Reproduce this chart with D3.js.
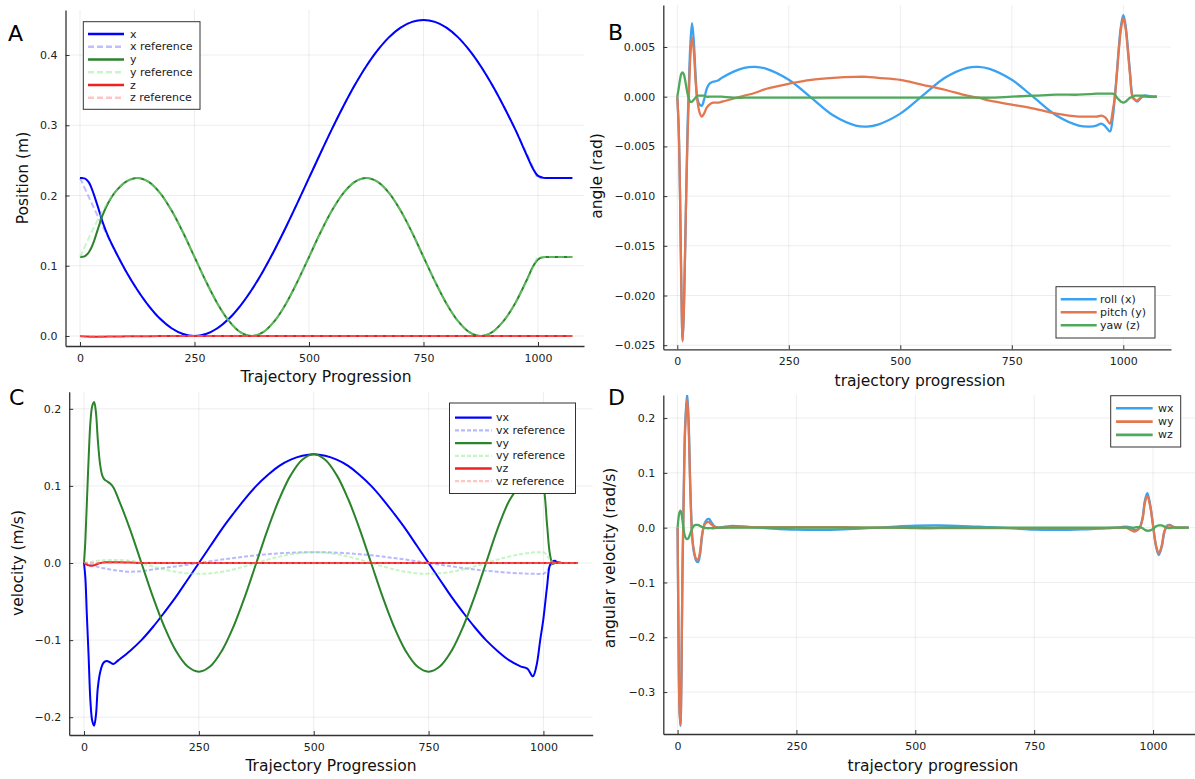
<!DOCTYPE html>
<html><head><meta charset="utf-8">
<script src="https://cdn.jsdelivr.net/npm/d3@7"></script>
<style>
body{margin:0;background:#fff;}
svg{display:block;font-family:"DejaVu Sans",sans-serif;}
</style></head><body>
<svg id="chart" width="1195" height="779"></svg>
<script>
// ---------------- DATA ----------------
const xTicks = [0, 250, 500, 750, 1000];
const yTicksA = [0, 0.1, 0.2, 0.3, 0.4];
const yTicksB = [-0.025, -0.02, -0.015, -0.01, -0.005, 0, 0.005];
const yTicksC = [-0.2, -0.1, 0, 0.1, 0.2];
const yTicksD = [-0.3, -0.2, -0.1, 0, 0.1, 0.2];

// Panel A: position
const tA = [0,5,10,15,20,25,30,40,50,62,75,100,125,150,175,200,225,250,275,300,325,350,375,400,425,450,475,500,525,550,575,600,625,650,675,700,725,750,775,800,825,850,875,900,925,950,975,990,1000,1010,1020,1035,1050,1075];
const posX = [0.225,0.2248,0.2243,0.222,0.218,0.211,0.202,0.182,0.161,0.141,0.1235,
  0.0927,0.0659,0.043,0.0245,0.011,0.0028,0,0.0028,0.011,0.0245,
  0.043,0.0659,0.0927,0.1229,0.1555,0.1898,0.225,0.2602,0.2945,0.3271,
  0.3573,0.3841,0.407,0.4255,0.439,0.4472,0.45,0.4472,0.439,0.4255,
  0.407,0.3841,0.3573,0.3271,0.2945,0.258,
  0.237,0.228,0.2255,0.225,0.225,0.225,0.225];
const posXRef = [0.225,0.218,0.2109,0.2038,0.1968,0.1898,0.1828,0.169,0.1555,0.1396,0.1229,
  0.0927,0.0659,0.043,0.0245,0.011,0.0028,0,0.0028,0.011,0.0245,
  0.043,0.0659,0.0927,0.1229,0.1555,0.1898,0.225,0.2602,0.2945,0.3271,
  0.3573,0.3841,0.407,0.4255,0.439,0.4472,0.45,0.4472,0.439,0.4255,
  0.407,0.3841,0.3573,0.3271,0.2945,0.2602,
  0.2391,0.225,0.225,0.225,0.225,0.225,0.225];
const posY = [0.1125,0.1127,0.1135,0.116,0.12,0.126,0.134,0.154,0.173,0.19,0.2035,
  0.2195,0.225,0.2195,0.2035,0.1786,0.1473,0.1125,0.0777,0.0464,0.0215,
  0.0055,0,0.0055,0.0215,0.0464,0.0777,0.1125,0.1473,0.1786,0.2035,
  0.2195,0.225,0.2195,0.2035,0.1786,0.1473,0.1125,0.0777,0.0464,0.0215,
  0.0055,0,0.0055,0.0215,0.0464,0.079,
  0.1,0.109,0.112,0.1125,0.1125,0.1125,0.1125];
const posYRef = [0.1125,0.1196,0.1266,0.1336,0.1405,0.1473,0.1539,0.1667,0.1786,0.1916,0.2035,
  0.2195,0.225,0.2195,0.2035,0.1786,0.1473,0.1125,0.0777,0.0464,0.0215,
  0.0055,0,0.0055,0.0215,0.0464,0.0777,0.1125,0.1473,0.1786,0.2035,
  0.2195,0.225,0.2195,0.2035,0.1786,0.1473,0.1125,0.0777,0.0464,0.0215,
  0.0055,0,0.0055,0.0215,0.0464,0.0777,
  0.0984,0.1125,0.1125,0.1125,0.1125,0.1125,0.1125];
const posZ = [0,-0.0003,-0.0006,-0.0008,-0.0009,-0.001,-0.001,-0.001,-0.0009,-0.0008,-0.0007,
  -0.0005,-0.0003,-0.0002,-0.0001,0,0,0,0,0,0,
  0,0,0,0,0,0,0,0,0,0,
  0,0,0,0,0,0,0,0,0,0,
  0,0,0,0,0,0,
  0,0,0,0,0,0,0];
const posZRef = [0,0,0,0,0,0,0,0,0,0,0,
  0,0,0,0,0,0,0,0,0,0,
  0,0,0,0,0,0,0,0,0,0,
  0,0,0,0,0,0,0,0,0,0,
  0,0,0,0,0,0,
  0,0,0,0,0,0,0];

// Panel B: angles
const tB = [0,3,6,9,12,15,19,23,26,29,33,37,41,45,50,55,60,66,72,80,90,100,125,150,175,200,250,300,350,400,425,450,500,550,600,650,675,700,750,800,850,900,925,940,951,960,970,976,981,986,990,995,1000,1005,1010,1015,1021,1026,1031,1038,1046,1054,1064,1075];
const roll = [0,-0.003,-0.0095,-0.019,-0.0246,-0.021,-0.012,-0.003,0.0012,0.005,
  0.0074,0.0056,0.0022,-0.0002,-0.0008,-0.0009,-0.0003,0.0008,0.0013,0.0015,
  0.0016,0.0019,0.0025,0.0029,0.003,0.0028,0.0017,-0.0001,-0.0019,-0.0029,
  -0.003,-0.0028,-0.0017,0.0001,0.0019,0.0029,0.003,0.0028,0.0017,-0.0001,
  -0.0019,-0.0029,-0.003,-0.0029,-0.0027,-0.003,-0.0035,-0.0022,0,0.0027,
  0.005,0.0072,0.0082,0.0072,0.005,0.0025,0,-0.0003,-0.0005,-0.0002,
  0.0001,0.0001,0,0];
const pitch = [0,-0.003,-0.0095,-0.019,-0.0245,-0.021,-0.012,-0.004,0,0.0038,
  0.006,0.0046,0.0016,-0.0004,-0.0016,-0.002,-0.0017,-0.0011,-0.0008,-0.0006,
  -0.0006,-0.0005,-0.0002,0.0001,0.0004,0.0008,0.0013,0.0017,0.0019,0.002,
  0.002,0.0019,0.0017,0.0012,0.0007,0.0001,-0.0001,-0.0004,-0.0008,-0.0012,
  -0.0017,-0.002,-0.002,-0.002,-0.0019,-0.0021,-0.0027,-0.0015,0,0.0025,
  0.0047,0.0069,0.0079,0.0069,0.0047,0.0022,-0.0001,-0.0003,-0.0004,-0.0001,
  0,0,0,0];
const yaw = [0,0.0008,0.0017,0.0023,0.00245,0.0022,0.0013,0.0003,-0.0002,-0.0005,
  -0.0005,-0.0003,-0.0001,0.0001,0.0001,0.0001,0.0001,0,0,0,
  0,0,-0.0001,-0.0001,-0.0001,-0.0001,-0.0001,-0.0001,-0.0001,-0.0001,
  -0.0001,-0.0001,-0.0001,-0.0001,-0.0001,-0.0001,-0.0001,-0.0001,0,0.0001,
  0.0002,0.0002,0.00025,0.0003,0.0003,0.0003,0.0003,0.0003,0.0002,-0.0001,
  -0.0003,-0.0005,-0.0006,-0.0005,-0.0003,-0.0001,0,0.0001,0.0001,0.0001,
  0.0001,0,0,0];

// Panel C: velocity
const tC = [0,3,6,10,14,18,22,26,30,35,40,45,50,57,64,75,100,125,150,175,200,225,250,275,300,325,350,375,400,425,450,475,500,525,550,575,600,625,650,675,700,725,750,775,800,825,850,875,900,925,950,965,977,985,993,1000,1008,1014,1020,1025,1030,1040,1055,1075];
const vx = [0,-0.02,-0.065,-0.121,-0.18,-0.205,-0.211,-0.197,-0.162,-0.142,
  -0.132,-0.128,-0.127,-0.129,-0.131,-0.126,-0.114,-0.1,-0.083,-0.064,
  -0.044,-0.022,0,0.022,0.044,0.064,0.083,0.1,0.114,0.126,
  0.134,0.139,0.141,0.139,0.134,0.126,0.114,0.1,0.083,0.064,
  0.044,0.022,0,-0.022,-0.044,-0.064,-0.083,-0.1,-0.114,-0.126,
  -0.134,-0.137,-0.147,-0.133,-0.1,-0.072,-0.03,-0.003,0.002,0.003,
  0.001,0,0,0];
const vxRef = [0,-0.0005,-0.001,-0.0018,-0.0025,-0.003,-0.0037,-0.0043,-0.005,-0.0057,
  -0.0064,-0.007,-0.0076,-0.0084,-0.009,-0.01,-0.0113,-0.0105,-0.0085,-0.0064,
  -0.0044,-0.0022,0,0.0022,0.0044,0.0064,0.0083,0.01,0.0114,0.0126,
  0.0134,0.0139,0.0141,0.0139,0.0134,0.0126,0.0114,0.01,0.0083,0.0064,
  0.0044,0.0022,0,-0.0022,-0.0044,-0.0064,-0.0083,-0.01,-0.0114,-0.0126,
  -0.0134,-0.0138,-0.014,-0.0141,-0.0141,-0.0141,-0.01,-0.004,-0.001,0,
  0,0,0,0];
const vy = [0,0.03,0.075,0.135,0.183,0.204,0.209,0.195,0.16,0.128,
  0.113,0.108,0.106,0.103,0.098,0.083,0.044,0,-0.044,-0.083,
  -0.114,-0.134,-0.141,-0.134,-0.114,-0.083,-0.044,0,0.044,0.083,
  0.114,0.134,0.141,0.134,0.114,0.083,0.044,0,-0.044,-0.083,
  -0.114,-0.134,-0.141,-0.134,-0.114,-0.083,-0.044,0,0.044,0.08,
  0.102,0.112,0.118,0.117,0.11,0.1,0.049,0.012,-0.001,0,
  0.001,0,0,0];
const vyRef = [0,0.0003,0.0006,0.001,0.0014,0.0018,0.0022,0.0025,0.0028,0.0032,
  0.0035,0.0037,0.0039,0.004,0.004,0.0039,0.003,0,-0.0044,-0.0083,
  -0.0114,-0.0134,-0.0141,-0.0134,-0.0114,-0.0083,-0.0044,0,0.0044,0.0083,
  0.0114,0.0134,0.0141,0.0134,0.0114,0.0083,0.0044,0,-0.0044,-0.0083,
  -0.0114,-0.0134,-0.0141,-0.0134,-0.0114,-0.0083,-0.0044,0,0.0044,0.0083,
  0.0114,0.0128,0.0136,0.0139,0.0141,0.0141,0.01,0.004,0.001,0,
  0,0,0,0];
const vz = [0,-0.001,-0.002,-0.003,-0.0035,-0.0035,-0.003,-0.002,-0.001,0,
  0.0005,0.001,0.001,0.001,0.001,0.001,0.0005,0,0,0,
  0,0,0,0,0,0,0,0,0,0,
  0,0,0,0,0,0,0,0,0,0,
  0,0,0,0,0,0,0,0,0,0,
  0,0,0,0,0,0,0,0,0,0,
  0,0,0,0];
const vzRef = [0,0,0,0,0,0,0,0,0,0,
  0,0,0,0,0,0,0,0,0,0,
  0,0,0,0,0,0,0,0,0,0,
  0,0,0,0,0,0,0,0,0,0,
  0,0,0,0,0,0,0,0,0,0,
  0,0,0,0,0,0,0,0,0,0,
  0,0,0,0];

// Panel D: angular velocity
const tD = [0,2,4,6,8,10,13,16,20,23,27,31,35,39,43,47,52,57,62,66,71,77,85,95,110,150,200,250,300,350,400,450,500,550,600,650,700,750,800,850,900,930,943,953,960,966,972,978,983,988,994,1000,1006,1012,1018,1024,1030,1035,1042,1050,1062,1075];
const wx = [0,-0.2,-0.33,-0.362,-0.28,-0.1,0.07,0.19,0.245,0.2,
  0.07,-0.02,-0.048,-0.06,-0.063,-0.05,-0.012,0.008,0.015,0.016,
  0.01,0.003,0,0.001,0.003,0.0015,-0.0015,-0.0035,-0.004,-0.003,
  -0.001,0.0015,0.0035,0.004,0.003,0.001,-0.001,-0.0035,-0.004,-0.003,
  -0.001,0.0005,0.002,0,-0.004,-0.004,0,0.018,0.05,0.063,
  0.042,0.005,-0.033,-0.05,-0.036,-0.008,0.004,0.005,0.002,0,
  0,0];
const wy = [0,-0.2,-0.33,-0.36,-0.28,-0.1,0.06,0.18,0.235,0.19,
  0.06,-0.02,-0.045,-0.057,-0.058,-0.045,-0.01,0.006,0.01,0.01,
  0.006,0.002,0,0,0.001,0.001,0.001,0.001,0.001,0.001,
  0,0,-0.001,-0.001,-0.001,-0.001,-0.001,-0.001,-0.001,-0.001,
  -0.001,0,0,-0.004,-0.007,-0.005,0,0.016,0.046,0.058,
  0.039,0.004,-0.031,-0.047,-0.034,-0.006,0.003,0.004,0.001,0,
  0,0];
const wz = [0,0.018,0.028,0.031,0.027,0.015,-0.005,-0.017,-0.021,-0.019,
  -0.01,-0.001,0.004,0.005,0.005,0.003,0.001,0,-0.001,-0.001,
  -0.001,-0.001,0,0,0,0,0,0,0,0,
  0,0,0,0,0,0,0,0,0,0,
  0,0,0,0,0,0.001,0.001,-0.001,-0.004,-0.0055,
  -0.005,-0.002,0.002,0.004,0.004,0.002,0,-0.001,0,0,
  0,0];

// ---------------- DRAWING ----------------
const svg = d3.select("#chart");
const defs = svg.append("defs");
const AXIS = "#333";

const panels = [
  {id:"A", letter:[8,40.5], left:65.5, right:584, top:10, bottom:346,
   xDomain:[-31.66,1100.4], yDomain:[-0.01423,0.4641], yTicks:yTicksA, fmt:d3.format(".1f"),
   xTitle:"Trajectory Progression", xTitlePos:[326,377], yTitle:"Position (m)", yTitlePos:[23,178],
   t:tA,
   series:[
     {v:posX, color:"#0000ff", w:2, label:"x"},
     {v:posXRef, color:"#0000ff", op:0.25, w:2, dash:"6,3", label:"x reference"},
     {v:posY, color:"#2b832b", w:2, label:"y"},
     {v:posYRef, color:"#90ee90", op:0.5, w:2, dash:"6,3", label:"y reference"},
     {v:posZ, color:"#f02020", w:2, label:"z"},
     {v:posZRef, color:"#ff8080", op:0.45, w:2, dash:"6,3", label:"z reference"}],
   legend:{x:83.3, y:21.7, w:116.7, h:87.6, row0:34, dy:12.75, lx1:88, lx2:124, tx:130}},
  {id:"B", letter:[608,40], left:663.3, right:1171, top:5, bottom:349.3,
   xDomain:[-31.39,1106.9], yDomain:[-0.02541,0.009225], yTicks:yTicksB, fmt:d3.format(".3f"),
   xTitle:"trajectory progression", xTitlePos:[920,381], yTitle:"angle (rad)", yTitlePos:[597,176],
   t:tB,
   series:[
     {v:roll, color:"#3aa2f2", w:2.3, label:"roll (x)"},
     {v:pitch, color:"#e3774f", w:2.3, label:"pitch (y)"},
     {v:yaw, color:"#4ea95a", w:2.3, label:"yaw (z)"}],
   legend:{x:1056, y:286.7, w:99, h:51.3, row0:299.3, dy:13, lx1:1060.7, lx2:1096.7, tx:1100}},
  {id:"C", letter:[9,405], left:69.2, right:592.7, top:391.7, bottom:735,
   xDomain:[-32.25,1107.25], yDomain:[-0.2231,0.2222], yTicks:yTicksC, fmt:d3.format(".1f"),
   xTitle:"Trajectory Progression", xTitlePos:[331,766], yTitle:"velocity (m/s)", yTitlePos:[17.6,563],
   t:tC,
   series:[
     {v:vx, color:"#0000ff", w:2, label:"vx"},
     {v:vxRef, color:"#0000ff", op:0.28, w:2, dash:"4,2", label:"vx reference"},
     {v:vy, color:"#2b832b", w:2, label:"vy"},
     {v:vyRef, color:"#90ee90", op:0.55, w:2, dash:"4,2", label:"vy reference"},
     {v:vz, color:"#f02020", w:2, label:"vz"},
     {v:vzRef, color:"#ff8080", op:0.45, w:2, dash:"4,2", label:"vz reference"}],
   legend:{x:449.5, y:403, w:126, h:90.5, row0:417.7, dy:12.7, lx1:455, lx2:491.7, tx:496}},
  {id:"D", letter:[608,405], left:663.3, right:1204, top:395, bottom:734,
   xDomain:[-30.06,1107.2], yDomain:[-0.3765,0.2421], yTicks:yTicksD, fmt:d3.format(".1f"),
   xTitle:"trajectory progression", xTitlePos:[933,766], yTitle:"angular velocity (rad/s)", yTitlePos:[610,558],
   t:tD,
   series:[
     {v:wx, color:"#3aa2f2", w:2.3, label:"wx"},
     {v:wy, color:"#e3774f", w:2.3, label:"wy"},
     {v:wz, color:"#4ea95a", w:2.3, label:"wz"}],
   legend:{x:1110.7, y:395.7, w:70, h:51.3, row0:408.3, dy:13.3, lx1:1116, lx2:1152.7, tx:1158}}
];

panels.forEach(p => {
  const x = d3.scaleLinear().domain(p.xDomain).range([p.left, p.right]);
  const y = d3.scaleLinear().domain(p.yDomain).range([p.bottom, p.top]);
  const g = svg.append("g");

  defs.append("clipPath").attr("id", "clip" + p.id)
    .append("rect").attr("x", p.left).attr("y", p.top)
    .attr("width", p.right - p.left).attr("height", p.bottom - p.top);

  // grid
  const grid = g.append("g").attr("stroke", "#000").attr("stroke-opacity", 0.09).attr("stroke-width", 0.8);
  grid.selectAll("line.gx").data(xTicks).join("line").attr("class","gx")
    .attr("x1", d => x(d)).attr("x2", d => x(d)).attr("y1", p.top).attr("y2", p.bottom);
  grid.selectAll("line.gy").data(p.yTicks).join("line").attr("class","gy")
    .attr("y1", d => y(d)).attr("y2", d => y(d)).attr("x1", p.left).attr("x2", p.right);

  // axes
  const ax = g.append("g").attr("transform", `translate(0,${p.bottom})`)
    .call(d3.axisBottom(x).tickValues(xTicks).tickSizeInner(-4).tickSizeOuter(0).tickPadding(8).tickFormat(d3.format("d")));
  const ay = g.append("g").attr("transform", `translate(${p.left},0)`)
    .call(d3.axisLeft(y).tickValues(p.yTicks).tickSizeInner(-4).tickSizeOuter(0).tickPadding(8).tickFormat(p.fmt));
  [ax, ay].forEach(a => {
    a.select(".domain").attr("stroke", AXIS).attr("stroke-width", 1.3);
    a.selectAll(".tick line").attr("stroke", AXIS).attr("stroke-width", 1);
    a.selectAll(".tick text").attr("fill", "#222").style("font-size", "11px").style("font-family", "DejaVu Sans");
  });

  // lines
  const lines = g.append("g").attr("clip-path", `url(#clip${p.id})`);
  p.series.forEach(s => {
    const line = d3.line().x((d, i) => x(p.t[i])).y(d => y(d)).curve(d3.curveCatmullRom.alpha(0.5));
    lines.append("path").datum(s.v).attr("d", line)
      .attr("fill", "none").attr("stroke", s.color).attr("stroke-width", s.w)
      .attr("stroke-opacity", s.op || 1).attr("stroke-dasharray", s.dash || null)
      .attr("stroke-linejoin", "round");
  });

  // titles
  g.append("text").attr("x", p.xTitlePos[0]).attr("y", p.xTitlePos[1])
    .attr("text-anchor", "middle").attr("dominant-baseline", "central")
    .style("font-size", "15.5px").attr("fill", "#111").text(p.xTitle);
  g.append("text").attr("transform", `translate(${p.yTitlePos[0]},${p.yTitlePos[1]}) rotate(-90)`)
    .attr("text-anchor", "middle").attr("dominant-baseline", "central")
    .style("font-size", "15.5px").attr("fill", "#111").text(p.yTitle);
  g.append("text").attr("x", p.letter[0]).attr("y", p.letter[1])
    .style("font-size", "22px").attr("fill", "#000").text(p.id);

  // legend
  const L = p.legend;
  const lg = g.append("g");
  lg.append("rect").attr("x", L.x).attr("y", L.y).attr("width", L.w).attr("height", L.h)
    .attr("fill", "#fff").attr("stroke", "#333").attr("stroke-width", 1);
  p.series.forEach((s, i) => {
    const yy = L.row0 + i * L.dy;
    lg.append("line").attr("x1", L.lx1).attr("x2", L.lx2).attr("y1", yy).attr("y2", yy)
      .attr("stroke", s.color).attr("stroke-width", s.w + 0.3).attr("stroke-opacity", s.op || 1)
      .attr("stroke-dasharray", s.dash || null);
    lg.append("text").attr("x", L.tx).attr("y", yy).attr("dominant-baseline", "central")
      .style("font-size", "11px").attr("fill", "#222").text(s.label);
  });
});
</script>
</body></html>
